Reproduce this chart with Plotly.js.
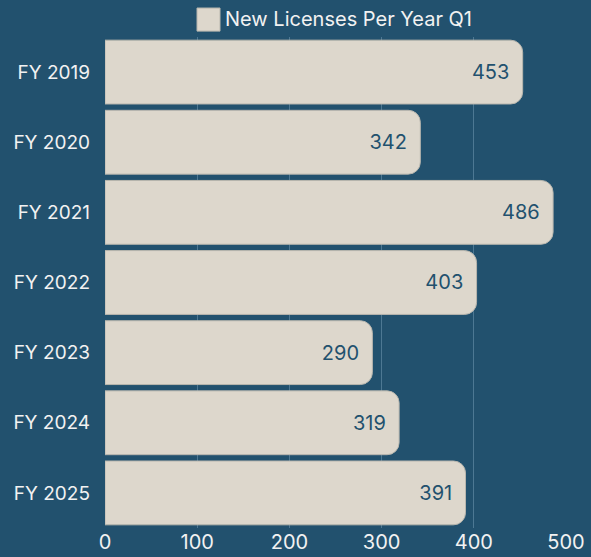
<!DOCTYPE html>
<html>
<head>
<meta charset="utf-8">
<script src="https://cdn.plot.ly/plotly-3.0.1.min.js"></script>
<style>html,body{margin:0;padding:0;background:#22516e;}#chart{width:591px;height:557px;}</style>
</head>
<body>
<div id="chart"></div>
<script>
const categories = ["FY 2019", "FY 2020", "FY 2021", "FY 2022", "FY 2023", "FY 2024", "FY 2025"];
const values = [453, 342, 486, 403, 290, 319, 391];
const seriesName = "New Licenses Per Year Q1";
const xTicks = [0, 100, 200, 300, 400, 500];

const bg = "#22516e";
const barColor = "#ddd7cc";
const fontFamily = "Inter, 'Noto Sans', sans-serif";

const trace = {
  type: "bar",
  orientation: "h",
  y: categories,
  x: values,
  name: seriesName,
  text: values.map(v => String(v) + "\u00a0"),
  textposition: "inside",
  insidetextanchor: "end",
  textfont: {color: bg, size: 20, family: fontFamily},
  marker: {color: barColor, line: {color: "#b8b6ae", width: 1}, cornerradius: 12},
  showlegend: false
};

const layout = {
  width: 591, height: 557,
  paper_bgcolor: bg, plot_bgcolor: bg,
  margin: {l: 105, r: 25, t: 37, b: 29},
  bargap: 0.09,
  font: {family: fontFamily, color: "#f2f2f2", size: 19},
  xaxis: {
    range: [0, 500], tickvals: xTicks, ticktext: xTicks.map(String),
    showgrid: true, gridcolor: "#4d7893", gridwidth: 1,
    zeroline: false, showline: false, ticks: "",
    tickfont: {size: 20, color: "#f2f2f2"}, fixedrange: true
  },
  yaxis: {
    autorange: "reversed", showgrid: false, zeroline: false, showline: false,
    ticks: "", ticklabelstandoff: 14,
    tickfont: {size: 19, color: "#f2f2f2"}
  },
  showlegend: false,
  shapes: [{
    type: "rect", xref: "paper", yref: "paper",
    x0: 0.1996, x1: 0.2495, y0: 1.012, y1: 1.059,
    fillcolor: barColor, line: {color: "#b8b6ae", width: 1}
  }],
  annotations: [{
    xref: "paper", yref: "paper", x: 0.256, y: 1.037,
    xanchor: "left", yanchor: "middle", showarrow: false,
    text: seriesName, font: {size: 20, color: "#f2f2f2", family: fontFamily}
  }]
};

Plotly.newPlot("chart", [trace], layout, {displayModeBar: false, staticPlot: true});
</script>
</body>
</html>
